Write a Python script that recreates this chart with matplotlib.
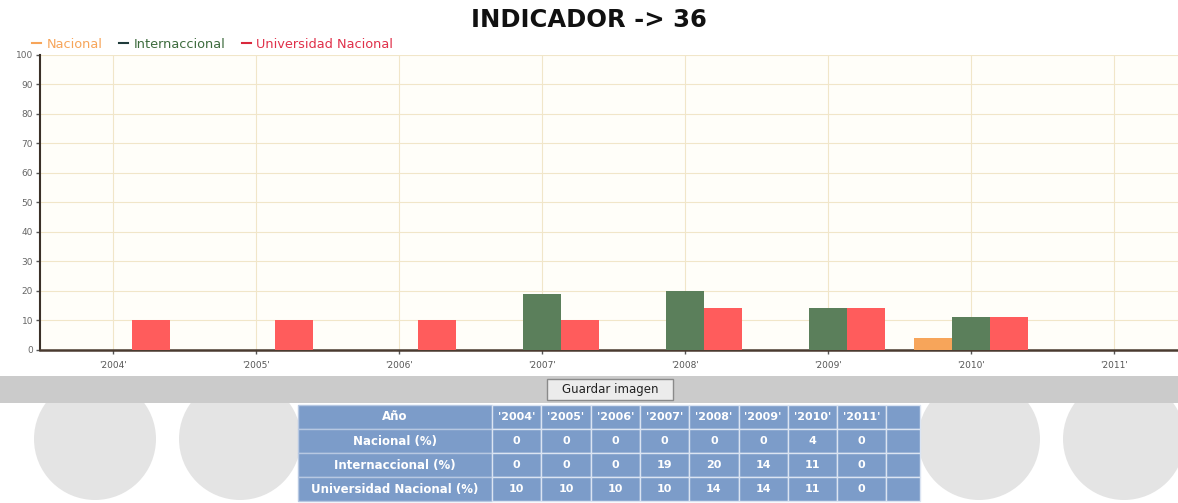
import matplotlib
matplotlib.use("Agg")
import matplotlib.pyplot as plt
from matplotlib.patches import Rectangle, Circle
from matplotlib.lines import Line2D
import numpy as np

# datos del indicador
anios = ["'2004'", "'2005'", "'2006'", "'2007'", "'2008'", "'2009'", "'2010'", "'2011'"]
nacional = [0, 0, 0, 0, 0, 0, 4, 0]
internacional = [0, 0, 0, 19, 20, 14, 11, 0]
universidad = [10, 10, 10, 10, 14, 14, 11, 0]
series_nombres = ["Nacional", "Internaccional", "Universidad Nacional"]
filas_tabla = ["Año", "Nacional (%)", "Internaccional (%)", "Universidad Nacional (%)"]
titulo = "INDICADOR -> 36"

col_nac = "#f7a55a"
col_int = "#5b7f5b"
col_uni = "#ff5c5c"
col_grid = "#f1e6c9"

W, H = 1178, 503
fig = plt.figure(figsize=(W / 100, H / 100), dpi=100, facecolor="white")

# capa de fondo en coordenadas de pixel (banda gris, boton, circulos, tabla)
bg = fig.add_axes([0, 0, 1, 1], zorder=0)
bg.set_xlim(0, W)
bg.set_ylim(H, 0)
bg.axis("off")

for cx in [95, 240, 979, 1124]:
    bg.add_patch(Circle((cx, 439), 61, color="#e4e4e4", lw=0, zorder=1))

bg.add_patch(Rectangle((0, 376), W, 27, color="#cbcbcb", lw=0, zorder=2))
bg.add_patch(Rectangle((547, 379), 126, 21, facecolor="#ececec", edgecolor="#8a8a8a", lw=1, zorder=3))
bg.text(610, 390, "Guardar imagen", ha="center", va="center", fontsize=8.5, color="#222222", zorder=4)

# tabla
x0, y0 = 298, 405
lab_w, col_w, row_h = 194, 49.3, 24
filas_val = [anios, nacional, internacional, universidad]
for r, nombre in enumerate(filas_tabla):
    y = y0 + r * row_h
    bg.add_patch(Rectangle((x0, y), lab_w, row_h, facecolor="#7c9cc9", edgecolor="#b7c8e2", lw=1, zorder=3))
    bg.text(x0 + lab_w / 2, y + row_h / 2, nombre, ha="center", va="center", fontsize=8.5,
            color="white", fontweight="bold", zorder=4)
    for c in range(len(anios)):
        x = x0 + lab_w + c * col_w
        bg.add_patch(Rectangle((x, y), col_w, row_h, facecolor="#7c9cc9", edgecolor="#dbe4f2", lw=1, zorder=3))
        bg.text(x + col_w / 2, y + row_h / 2, str(filas_val[r][c]), ha="center", va="center",
                fontsize=8, color="white", fontweight="bold", zorder=4)
    xe = x0 + lab_w + len(anios) * col_w
    bg.add_patch(Rectangle((xe, y), 34, row_h, facecolor="#7c9cc9", edgecolor="#dbe4f2", lw=1, zorder=3))

bg.text(W / 2, 20, titulo, ha="center", va="center", fontsize=17.5, fontweight="bold", color="#111111")

# grafico principal
left, top, bottom = 40, 55, 349.5
ax = fig.add_axes([left / W, (H - bottom) / H, (W - left) / W, (bottom - top) / H], zorder=1)
ax.set_facecolor("#fffef9")

x = np.arange(len(anios))
w = 0.265
ax.bar(x - w, nacional, w, color=col_nac, zorder=3)
ax.bar(x, internacional, w, color=col_int, zorder=3)
ax.bar(x + w, universidad, w, color=col_uni, zorder=3)

ax.set_xlim(-0.51, 7.45)
ax.set_ylim(0, 100)
ax.set_xticks(x)
ax.set_xticklabels(anios, fontsize=6.5, color="#555555")
ax.set_yticks(range(0, 101, 10))
ax.set_yticklabels([str(v) for v in range(0, 101, 10)], fontsize=6.5, color="#666666")
ax.tick_params(axis="x", length=3, width=1, color="#555555", pad=5)
ax.tick_params(axis="y", length=3, width=1, color="#555555", pad=2)
ax.grid(True, color=col_grid, lw=0.8, zorder=0)

ax.spines["top"].set_visible(False)
ax.spines["right"].set_visible(False)
ax.spines["bottom"].set_color("#4a3b30")
ax.spines["bottom"].set_linewidth(1.8)
ax.spines["left"].set_color("#3a3028")
ax.spines["left"].set_linewidth(1.5)

handles = [Line2D([0], [0], color=col_nac, lw=1.5),
           Line2D([0], [0], color="#1f3b3b", lw=1.5),
           Line2D([0], [0], color="#d9283c", lw=1.5)]
ax.legend(handles, series_nombres, loc="lower left", bbox_to_anchor=(-0.008, 1.01), ncol=3,
          frameon=False, fontsize=9.3, handlelength=0.7, handletextpad=0.4, columnspacing=1.3,
          borderaxespad=0, borderpad=0.1, labelcolor=[col_nac, "#3d6b3d", "#e0304a"])

fig.savefig("out.png", dpi=100, facecolor="white")
